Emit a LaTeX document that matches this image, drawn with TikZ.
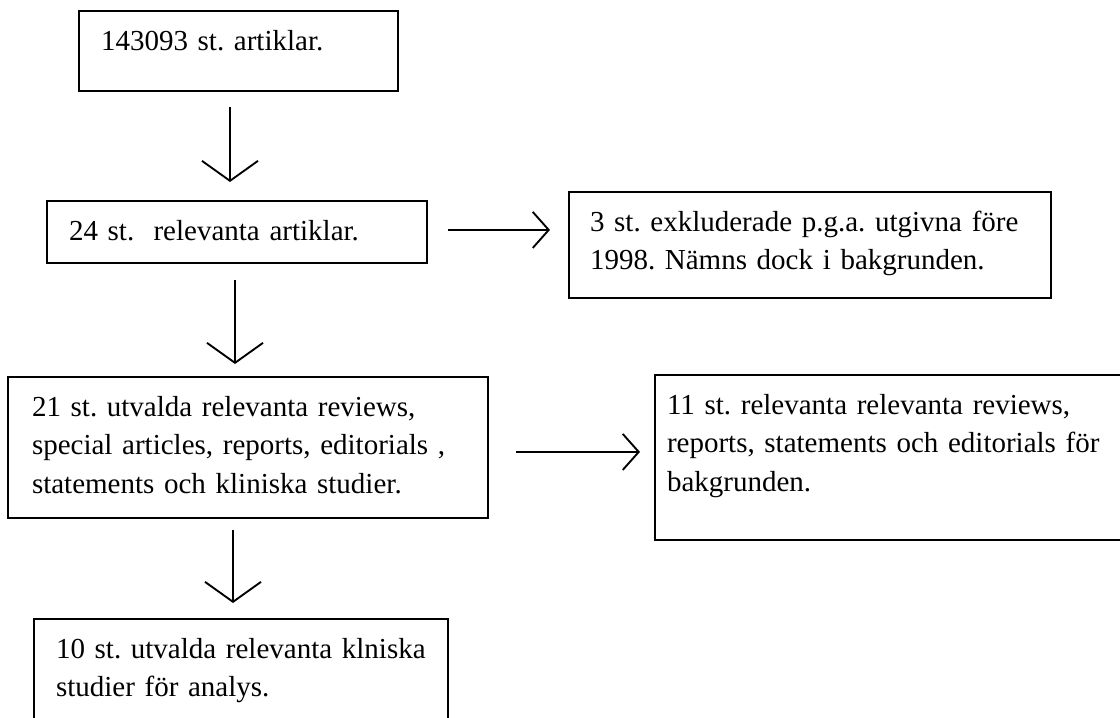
\documentclass[tikz,border=0pt]{standalone}
\usepackage{fontspec}
\setmainfont{Liberation Serif}
\usetikzlibrary{arrows.meta}

\begin{document}
\begin{tikzpicture}[x=0.75pt, y=-0.75pt,
    flowbox/.style={draw, line width=1.3pt, outer sep=0pt, anchor=north west, align=left,
        inner ysep=0pt, text height=29.5pt,
        font=\fontsize{21.75pt}{28.9pt}\selectfont\frenchspacing},
    downarrow/.style={line width=1.4pt, -{Straight Barb[length=15pt, width=42pt]}},
    sidearrow/.style={line width=1.4pt, -{Straight Barb[length=12pt, width=27pt]}}]

    % Page size
    \useasboundingbox (0,0) rectangle (1120,717);
    \clip (0,0) rectangle (1120,717);

    % Boxes of the flow
    \node[flowbox, text width=206.25pt, inner xsep=16.5pt, text depth=30.4pt] (found) at (79,11)
        {143093 st. artiklar.};
    \node[flowbox, text width=252pt, inner xsep=16.5pt, text depth=16.9pt] (relevant) at (47,201)
        {24 st.~ relevanta artiklar.};
    \node[flowbox, text width=330pt, inner xsep=15.75pt, text depth=49.9pt] (excluded) at (569,192)
        {3 st. exkluderade p.g.a. utgivna före\\1998. Nämns dock i bakgrunden.};
    \node[flowbox, text width=324pt, inner xsep=18pt, text depth=76.1pt] (selected) at (8,377)
        {21 st. utvalda relevanta reviews,\\special articles, reports, editorials ,\\statements och kliniska studier.};
    \node[flowbox, text width=342pt, inner xsep=9pt, text depth=94.1pt] (background) at (655,375)
        {11 st. relevanta relevanta reviews,\\reports, statements och editorials för\\bakgrunden.};
    \node[flowbox, text width=277.5pt, inner xsep=16.5pt, text depth=60.4pt] (analysed) at (34,619)
        {10 st. utvalda relevanta klniska\\studier för analys.};

    % Arrows down
    \draw[downarrow, shorten <=12pt, shorten >=14.25pt]
        ([xshift=-6.4pt]found.south) -- ([xshift=-6.4pt]found.south |- relevant.north);
    \draw[downarrow, shorten <=12.75pt, shorten >=9.75pt]
        ([xshift=-1.5pt]relevant.south) -- ([xshift=-1.5pt]relevant.south |- selected.north);
    \draw[downarrow, shorten <=9pt, shorten >=12pt]
        ([xshift=-11.25pt]selected.south) -- ([xshift=-11.25pt]selected.south |- analysed.north);

    % Arrows to the side
    \draw[sidearrow, shorten <=15.75pt, shorten >=14.25pt]
        ([yshift=1.5pt]relevant.east) -- ([yshift=1.5pt]relevant.east -| excluded.west);
    \draw[sidearrow, shorten <=21pt, shorten >=11.25pt]
        ([yshift=-3.4pt]selected.east) -- ([yshift=-3.4pt]selected.east -| background.west);

\end{tikzpicture}
\end{document}
